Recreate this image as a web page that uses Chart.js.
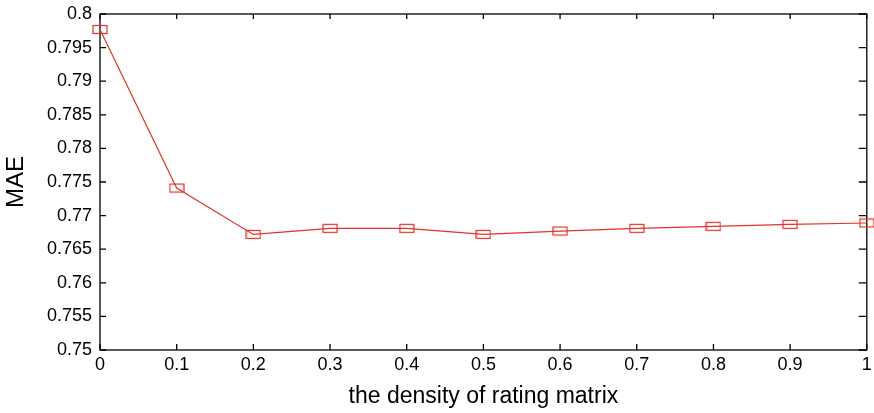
<!DOCTYPE html>
<html lang="en">
<head>
    <meta charset="UTF-8">
    <script src="https://cdn.jsdelivr.net/npm/chart.js"></script>
    <title>MAE x densidade</title>
    <style>
        body { margin: 0; background: #fff; }
        .grafico { width: 874px; height: 413px; }
    </style>
</head>
<body>
    <div class="grafico"><canvas id="Grafico1"></canvas></div>

<script>
    // valores
    var densidade = [0, 0.1, 0.2, 0.3, 0.4, 0.5, 0.6, 0.7, 0.8, 0.9, 1];
    var mae = [0.7977, 0.7741, 0.7672, 0.7681, 0.7681, 0.7672, 0.7677, 0.7681, 0.7684, 0.7687, 0.7689];
    var ticksX = [0, 0.1, 0.2, 0.3, 0.4, 0.5, 0.6, 0.7, 0.8, 0.9, 1];
    var ticksY = [0.75, 0.755, 0.76, 0.765, 0.77, 0.775, 0.78, 0.785, 0.79, 0.795, 0.8];

    var vermelho = '#e2332a';

    // marcador retangular (mais largo que alto)
    var marcador = document.createElement('canvas');
    marcador.width = 16;
    marcador.height = 11;
    var mctx = marcador.getContext('2d');
    mctx.strokeStyle = vermelho;
    mctx.lineWidth = 1.2;
    mctx.strokeRect(1, 1.5, 14, 8);

    // moldura com marcas para dentro
    var moldura = {
        id: 'moldura',
        beforeDatasetsDraw(chart) {
            var c = chart.ctx, a = chart.chartArea;
            var sx = chart.scales.x, sy = chart.scales.y;
            c.save();
            c.strokeStyle = '#000';
            c.lineWidth = 1.3;
            c.strokeRect(a.left, a.top, a.right - a.left, a.bottom - a.top);
            c.beginPath();
            ticksX.forEach(function (v) {
                var px = sx.getPixelForValue(v);
                c.moveTo(px, a.bottom); c.lineTo(px, a.bottom - 6);
                c.moveTo(px, a.top); c.lineTo(px, a.top + 5);
            });
            ticksY.forEach(function (v) {
                var py = sy.getPixelForValue(v);
                c.moveTo(a.left, py); c.lineTo(a.left + 6, py);
                c.moveTo(a.right, py); c.lineTo(a.right - 8, py);
            });
            c.stroke();
            c.restore();
        }
    };

    var familia = '"Liberation Sans", Arial, sans-serif';
    var fonte = { family: familia, size: 18 };

    var ctx = document.getElementById('Grafico1').getContext('2d');
    new Chart(ctx, {
        type: 'line',
        data: {
            datasets: [{
                label: 'MAE',
                data: densidade.map(function (d, i) { return { x: d, y: mae[i] }; }),
                borderColor: vermelho,
                borderWidth: 1.2,
                pointStyle: marcador,
                pointRadius: 6,
                clip: false,
                tension: 0
            }]
        },
        options: {
            responsive: true,
            maintainAspectRatio: false,
            animation: false,
            layout: { padding: { left: 0, top: 14, right: 7, bottom: 0 } },
            plugins: {
                legend: { display: false },
                tooltip: { enabled: false }
            },
            scales: {
                x: {
                    type: 'linear',
                    min: 0,
                    max: 1,
                    afterBuildTicks: function (s) { s.ticks = ticksX.map(function (v) { return { value: v }; }); },
                    afterFit: function (s) {
                        s.height = 63;
                        s.paddingLeft = 0;
                        s.paddingRight = 0;
                    },
                    grid: { display: false, drawTicks: false },
                    border: { display: false },
                    ticks: {
                        color: '#000',
                        font: fonte,
                        padding: 4,
                        maxRotation: 0,
                        autoSkip: false,
                        callback: function (v) { return String(parseFloat(v.toFixed(1))); }
                    },
                    title: {
                        display: true,
                        text: 'the density of rating matrix',
                        color: '#000',
                        font: { family: familia, size: 23 },
                        padding: { top: 4, bottom: 3 }
                    }
                },
                y: {
                    min: 0.75,
                    max: 0.8,
                    afterBuildTicks: function (s) { s.ticks = ticksY.map(function (v) { return { value: v }; }); },
                    afterFit: function (s) {
                        s.width = 100;
                        s.paddingTop = 0;
                        s.paddingBottom = 0;
                    },
                    grid: { display: false, drawTicks: false },
                    border: { display: false },
                    ticks: {
                        color: '#000',
                        font: fonte,
                        padding: 8,
                        autoSkip: false,
                        callback: function (v) { return String(parseFloat(v.toFixed(3))); }
                    },
                    title: {
                        display: true,
                        text: 'MAE',
                        color: '#000',
                        font: { family: familia, size: 24 },
                        padding: { top: 2, bottom: 2 }
                    }
                }
            }
        },
        plugins: [moldura]
    });
</script>
</body>
</html>
